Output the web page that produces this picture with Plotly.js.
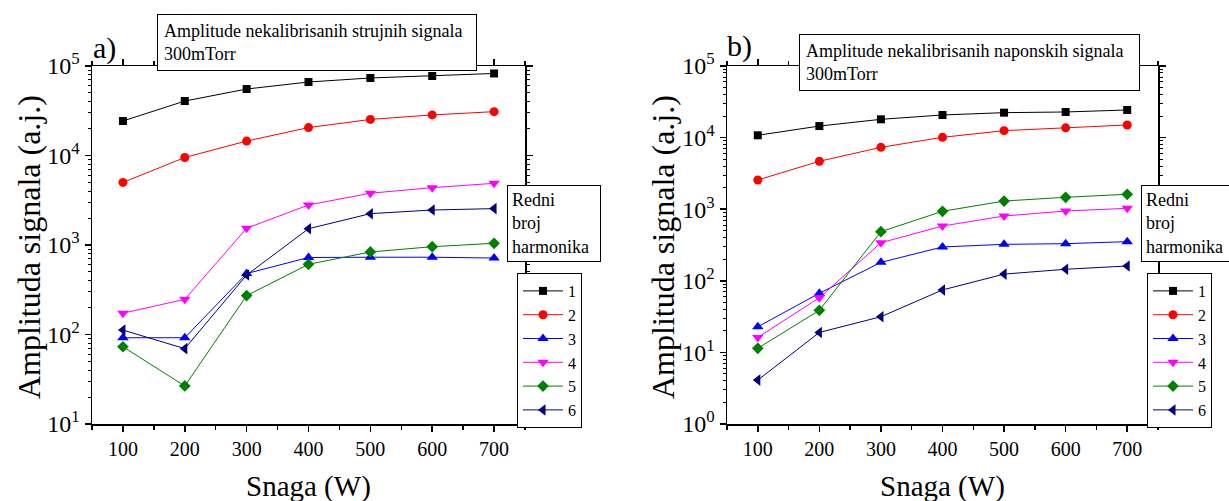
<!DOCTYPE html>
<html>
<head>
<meta charset="utf-8">
<script src="https://cdn.plot.ly/plotly-3.0.1.min.js"></script>
<style>html,body{margin:0;padding:0;background:#fff;}#chart{width:1229px;height:501px;}</style>
</head>
<body>
<div id="chart"></div>
<script>
// ---------- DATA ----------
var power = [100, 200, 300, 400, 500, 600, 700];
var harmonicNames = ['1', '2', '3', '4', '5', '6'];

// a) current signals (strujni)
var cur1 = [24300, 40600, 55300, 66200, 73500, 77300, 82500];
var cur2 = [5000, 9500, 14500, 20500, 25300, 28400, 30900];
var cur3 = [92, 92, 480, 725, 730, 730, 715];
var cur4 = [173, 247, 1540, 2800, 3790, 4370, 4890];
var cur5 = [73, 26.6, 272, 608, 836, 957, 1045];
var cur6 = [112, 69.5, 462, 1520, 2240, 2460, 2550];

// b) voltage signals (naponski)
var vol1 = [10770, 14500, 18000, 20700, 22300, 22800, 24300];
var vol2 = [2560, 4670, 7310, 10090, 12500, 13700, 15000];
var vol3 = [22.8, 67, 181, 297, 323, 330, 352];
var vol4 = [16.2, 58, 340, 582, 803, 944, 1028];
var vol5 = [11.4, 38.7, 485, 935, 1300, 1467, 1615];
var vol6 = [4.1, 19, 31.5, 74.5, 124, 145, 161];

var xTickVals = [100, 200, 300, 400, 500, 600, 700];
var yTickValsA = [10, 100, 1000, 10000, 100000];
var yTickTextA = ['10<sup>1</sup>', '10<sup>2</sup>', '10<sup>3</sup>', '10<sup>4</sup>', '10<sup>5</sup>'];
var yTickValsB = [1, 10, 100, 1000, 10000, 100000];
var yTickTextB = ['10<sup>0</sup>', '10<sup>1</sup>', '10<sup>2</sup>', '10<sup>3</sup>', '10<sup>4</sup>', '10<sup>5</sup>'];

var titleA = 'Amplitude nekalibrisanih strujnih signala<br>300mTorr';
var titleB = 'Amplitude nekalibrisanih naponskih signala<br>300mTorr';
var legendTitle = 'Redni<br>broj<br>harmonika';
var xTitle = 'Snaga (W)';
var yTitle = 'Amplituda signala (a.j.)';

// ---------- STYLE ----------
var colors = ['#000000', '#FF0000', '#0000FF', '#FF00FF', '#008000', '#000080'];
var symbols = ['square', 'circle', 'triangle-up', 'triangle-down', 'diamond', 'triangle-left'];
var sizes = [8, 9, 10, 10, 9, 10];
var FONT = '"Liberation Serif", serif';

var W = 1229, H = 501;
function px(x) { return x / W; }
function py(y) { return (H - y) / H; }

var seriesA = [cur1, cur2, cur3, cur4, cur5, cur6];
var seriesB = [vol1, vol2, vol3, vol4, vol5, vol6];
var traces = [];
seriesA.forEach(function (s, i) {
  traces.push({
    x: power, y: s, type: 'scatter', mode: 'lines+markers', name: harmonicNames[i],
    xaxis: 'x', yaxis: 'y', legend: 'legend',
    line: {color: colors[i], width: 1},
    marker: {symbol: symbols[i], size: sizes[i], color: colors[i]}
  });
});
seriesB.forEach(function (s, i) {
  traces.push({
    x: power, y: s, type: 'scatter', mode: 'lines+markers', name: harmonicNames[i],
    xaxis: 'x2', yaxis: 'y2', legend: 'legend2',
    line: {color: colors[i], width: 1},
    marker: {symbol: symbols[i], size: sizes[i], color: colors[i]}
  });
});

function xAxis(domain, anchor) {
  return {
    domain: domain, anchor: anchor, range: [50, 750],
    tickmode: 'array', tickvals: xTickVals,
    ticks: 'outside', ticklen: 6, tickwidth: 1.5, tickcolor: '#000',
    minor: {dtick: 50, tick0: 0, ticks: 'outside', ticklen: 4, tickwidth: 1.5, tickcolor: '#000'},
    showline: true, linecolor: '#000', linewidth: 1.5, mirror: 'ticks',
    showgrid: false, zeroline: false,
    tickfont: {family: FONT, size: 20, color: '#000'}
  };
}
function yAxis(domain, anchor, range, vals, text) {
  return {
    domain: domain, anchor: anchor, type: 'log', range: range,
    tickmode: 'array', tickvals: vals, ticktext: text,
    ticks: 'outside', ticklen: 6, tickwidth: 1.5, tickcolor: '#000',
    minor: {dtick: 'D1', ticks: 'outside', ticklen: 3, tickwidth: 1, tickcolor: '#000', showgrid: false},
    showline: true, linecolor: '#000', linewidth: 1.5, mirror: 'ticks',
    showgrid: false, zeroline: false,
    tickfont: {family: FONT, size: 24, color: '#000'}
  };
}

var yDom = [py(424), py(66)];
var legendStyle = function (x) {
  return {
    x: px(x), y: py(273), xanchor: 'left', yanchor: 'top',
    bgcolor: '#fff', bordercolor: '#000', borderwidth: 1, itemwidth: 40,
    font: {family: FONT, size: 16, color: '#000'}, tracegroupgap: 0
  };
};
var layout = {
  width: W, height: H,
  margin: {l: 0, r: 0, t: 0, b: 0},
  paper_bgcolor: '#fff', plot_bgcolor: '#fff',
  font: {family: FONT, color: '#000'},
  hovermode: false,
  xaxis: xAxis([px(92), px(525)], 'y'),
  yaxis: yAxis(yDom, 'x', [1, 5], yTickValsA, yTickTextA),
  xaxis2: xAxis([px(727), px(1158)], 'y2'),
  yaxis2: yAxis(yDom, 'x2', [0, 5], yTickValsB, yTickTextB),
  legend: legendStyle(517),
  legend2: legendStyle(1147),
  annotations: [
    {text: titleA, xref: 'paper', yref: 'paper', x: px(157), y: py(14), xanchor: 'left', yanchor: 'top',
     showarrow: false, align: 'left', width: 306, borderpad: 6, bordercolor: '#000', borderwidth: 1, bgcolor: '#fff',
     font: {family: FONT, size: 18, color: '#000'}},
    {text: titleB, xref: 'paper', yref: 'paper', x: px(799), y: py(34), xanchor: 'left', yanchor: 'top',
     showarrow: false, align: 'left', width: 327, borderpad: 6, bordercolor: '#000', borderwidth: 1, bgcolor: '#fff',
     font: {family: FONT, size: 18, color: '#000'}},
    {text: legendTitle, xref: 'paper', yref: 'paper', x: px(507), y: py(185), xanchor: 'left', yanchor: 'top',
     showarrow: false, align: 'left', width: 84, borderpad: 4, bordercolor: '#000', borderwidth: 1, bgcolor: '#fff',
     font: {family: FONT, size: 18, color: '#000'}},
    {text: legendTitle, xref: 'paper', yref: 'paper', x: px(1141), y: py(185), xanchor: 'left', yanchor: 'top',
     showarrow: false, align: 'left', width: 84, borderpad: 4, bordercolor: '#000', borderwidth: 1, bgcolor: '#fff',
     font: {family: FONT, size: 18, color: '#000'}},
    {text: 'a)', xref: 'paper', yref: 'paper', x: px(91), y: py(48), xanchor: 'left', yanchor: 'middle',
     showarrow: false, font: {family: FONT, size: 30, color: '#000'}},
    {text: 'b)', xref: 'paper', yref: 'paper', x: px(725), y: py(46), xanchor: 'left', yanchor: 'middle',
     showarrow: false, font: {family: FONT, size: 30, color: '#000'}},
    {text: xTitle, xref: 'paper', yref: 'paper', x: px(308), y: py(486), xanchor: 'center', yanchor: 'middle',
     showarrow: false, font: {family: FONT, size: 29, color: '#000'}},
    {text: xTitle, xref: 'paper', yref: 'paper', x: px(942), y: py(486), xanchor: 'center', yanchor: 'middle',
     showarrow: false, font: {family: FONT, size: 29, color: '#000'}},
    {text: yTitle, xref: 'paper', yref: 'paper', x: px(29), y: py(247), xanchor: 'center', yanchor: 'middle',
     textangle: -90, showarrow: false, font: {family: FONT, size: 32, color: '#000'}},
    {text: yTitle, xref: 'paper', yref: 'paper', x: px(663), y: py(247), xanchor: 'center', yanchor: 'middle',
     textangle: -90, showarrow: false, font: {family: FONT, size: 32, color: '#000'}}
  ]
};

Plotly.newPlot('chart', traces, layout, {displayModeBar: false, staticPlot: true});
</script>
</body>
</html>
